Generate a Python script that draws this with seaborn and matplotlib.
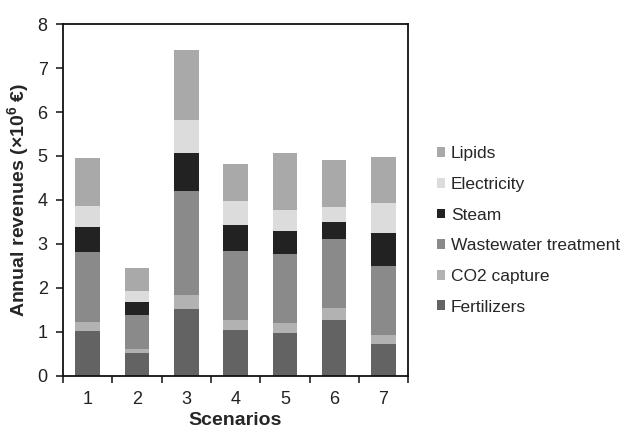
import numpy as np
import pandas as pd
import matplotlib
matplotlib.use("Agg")
import matplotlib.pyplot as plt
import seaborn as sns

scenarios = ["1", "2", "3", "4", "5", "6", "7"]
fertilizers = [1.01, 0.51, 1.51, 1.05, 0.97, 1.28, 0.73]
co2_capture = [0.21, 0.09, 0.33, 0.21, 0.22, 0.27, 0.19]
wastewater = [1.59, 0.79, 2.36, 1.59, 1.57, 1.57, 1.57]
steam = [0.57, 0.30, 0.86, 0.58, 0.54, 0.38, 0.75]
electricity = [0.49, 0.25, 0.76, 0.55, 0.48, 0.34, 0.68]
lipids = [1.08, 0.52, 1.60, 0.84, 1.28, 1.06, 1.06]

sources = ["Fertilizers", "CO2 capture", "Wastewater treatment", "Steam", "Electricity", "Lipids"]
colors = ["#636363", "#b2b2b2", "#8a8a8a", "#222222", "#dcdcdc", "#a9a9a9"]

df = pd.DataFrame({
    "Scenario": scenarios,
    "Fertilizers": fertilizers,
    "CO2 capture": co2_capture,
    "Wastewater treatment": wastewater,
    "Steam": steam,
    "Electricity": electricity,
    "Lipids": lipids,
})

sns.set_style("ticks")
plt.rcParams["font.family"] = ["Liberation Sans", "DejaVu Sans"]
plt.rcParams["mathtext.fontset"] = "custom"
plt.rcParams["mathtext.bf"] = "Liberation Sans:bold"
plt.rcParams["mathtext.rm"] = "Liberation Sans"

fig = plt.figure(figsize=(6.24, 4.30), dpi=100)
ax = fig.add_axes([0.101, 0.126, 0.553, 0.818])

bottom = np.zeros(len(df))
for name, col in zip(sources, colors):
    sns.barplot(data=df, x="Scenario", y=name, bottom=bottom, color=col,
                width=0.5, linewidth=0, label=name, ax=ax, saturation=1)
    bottom = bottom + df[name].to_numpy()

ax.set_ylim(0, 8)
ax.set_yticks(range(0, 9))
ax.set_xlim(-0.5, 6.5)
ax.set_xticks(np.arange(-0.5, 7, 1))
ax.set_xticklabels([])
ax.set_xticks(range(7), minor=True)
ax.set_xticklabels(scenarios, minor=True)
ax.tick_params(axis="both", which="major", direction="out", length=5, width=1.2,
               labelsize=13, colors="#222222")
ax.tick_params(axis="y", which="major", pad=6)
ax.tick_params(axis="x", which="minor", length=0, pad=11, labelsize=13,
               colors="#222222")

for s in ax.spines.values():
    s.set_linewidth(1.3)
    s.set_color("#111111")

ax.set_xlabel("Scenarios", fontsize=14, fontweight="bold", labelpad=3)
ax.set_ylabel(r"Annual revenues (×10$^{\mathbf{6}}$ €)", fontsize=14,
              fontweight="bold", labelpad=4)

handles, labels = ax.get_legend_handles_labels()
if ax.get_legend() is not None:
    ax.get_legend().remove()
fig.legend(handles[::-1], labels[::-1], loc="center left",
           bbox_to_anchor=(0.70, 0.464), frameon=False, fontsize=12.5,
           handlelength=0.5, handleheight=0.5, handletextpad=0.3,
           labelspacing=0.9, borderaxespad=0, borderpad=0)

fig.savefig("out.png", dpi=100)
